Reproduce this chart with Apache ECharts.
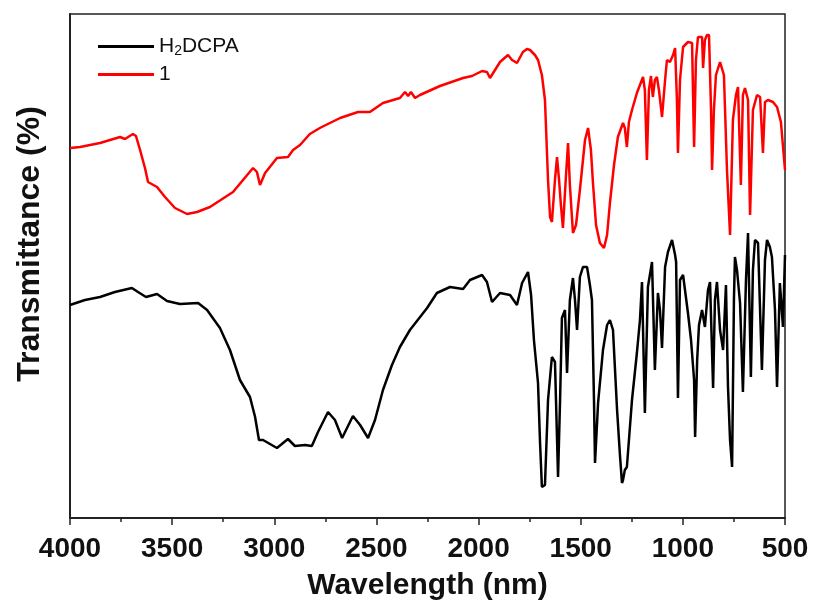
<!DOCTYPE html>
<html><head><meta charset="utf-8">
<script src="https://cdn.jsdelivr.net/npm/echarts@6/dist/echarts.min.js"></script>
<style>html,body{margin:0;padding:0;background:#fff}#c{width:814px;height:608px}</style>
</head><body><div id="c"></div>
<script>
// Wavenumber (cm-1) values
const redWave = [4000,3951,3902,3853,3804,3755,3731,3692,3677,3657,3633,3618,3574,3535,3486,3427,3378,3315,3202,3104,3085,3070,3045,2987,2933,2908,2874,2826,2777,2678,2590,2532,2468,2385,2360,2345,2331,2311,2287,2189,2076,2032,1983,1959,1944,1895,1856,1836,1812,1783,1763,1748,1724,1709,1690,1675,1660,1650,1641,1626,1616,1606,1597,1587,1572,1562,1553,1538,1523,1504,1479,1464,1450,1440,1425,1406,1386,1371,1357,1337,1318,1293,1284,1274,1264,1249,1225,1195,1186,1176,1166,1156,1147,1137,1127,1117,1102,1087,1078,1063,1048,1038,1029,1024,1014,999,975,955,945,936,926,906,901,892,882,872,862,857,848,838,818,799,784,769,755,740,730,716,706,696,681,671,657,637,622,608,598,583,559,539,520,500];
const redT = [370,371,373,375,378,381,379,384,382,368,350,336,331,321,310,304,306,311,326,350,346,333,345,360,361,368,373,384,390,400,406,406,415,420,426,422,426,420,423,432,440,442,447,446,440,456,463,458,455,466,469,468,463,458,443,418,338,301,296,338,361,338,313,290,343,375,333,285,293,328,378,390,368,335,293,275,270,283,315,353,381,395,390,371,396,408,425,441,428,358,428,442,421,438,441,428,401,438,458,456,463,470,418,365,438,471,476,475,371,458,481,481,450,478,483,483,408,348,408,443,456,443,348,283,398,423,431,333,423,430,418,303,408,423,421,365,416,418,416,411,396,348];
const blackWave = [4000,3927,3853,3780,3697,3667,3628,3574,3525,3462,3373,3329,3266,3217,3168,3119,3094,3075,3055,3021,2987,2957,2933,2899,2850,2816,2786,2737,2703,2668,2615,2580,2541,2507,2468,2424,2385,2336,2252,2204,2140,2076,2042,1983,1959,1934,1895,1846,1812,1787,1758,1743,1729,1709,1699,1690,1675,1660,1641,1626,1611,1601,1592,1577,1567,1553,1538,1528,1518,1504,1489,1469,1455,1445,1435,1430,1415,1391,1371,1357,1342,1322,1308,1298,1293,1284,1274,1249,1225,1210,1200,1186,1171,1151,1137,1122,1112,1102,1087,1073,1053,1038,1033,1024,1014,999,975,960,945,940,930,921,906,892,877,867,852,843,833,818,803,789,779,769,759,750,745,735,720,706,691,681,667,657,647,632,613,598,588,574,564,549,539,525,510,500];
const blackT = [213,218,221,226,230,226,221,224,217,214,215,208,190,168,138,121,101,78,78,74,70,75,79,72,73,72,86,106,98,80,102,93,80,98,128,153,171,188,210,225,231,229,238,243,236,216,225,223,213,235,246,223,178,135,75,31,33,118,161,156,41,118,200,208,145,218,240,218,188,241,251,251,233,218,118,55,115,168,193,198,188,108,63,35,38,48,51,118,165,198,236,105,231,256,148,225,208,170,251,266,278,263,256,120,238,243,205,178,138,81,158,193,208,191,228,236,130,218,236,188,168,233,131,78,51,218,261,248,215,126,238,285,141,248,278,275,148,258,278,271,261,208,131,235,191,263];
const xTicks = [4000,3500,3000,2500,2000,1500,1000,500];
const seriesNames = ['H2DCPA','1'];
const yTitle = 'Transmittance (%)';

const chart = echarts.init(document.getElementById('c'));
const zip = (a,b) => a.map((v,i)=>[v,b[i]]);
const font = '"Liberation Sans", Arial, sans-serif';
chart.setOption({
  animation:false,
  grid:{left:70,right:29,top:14,bottom:90,show:true,borderColor:'#222',borderWidth:1.5},
  legend:{
    orient:'vertical',left:93,top:31,itemGap:6,itemWidth:56,itemHeight:3,
    data:[{name:seriesNames[0],icon:'rect'},{name:seriesNames[1],icon:'rect'}],
    formatter:n=> n==='H2DCPA' ? 'H{s|2}DCPA' : n,
    textStyle:{fontFamily:font,fontSize:21,color:'#111',
      rich:{s:{fontFamily:font,fontSize:14,verticalAlign:'bottom',padding:[9,0,0,0],color:'#111'}}}
  },
  graphic:[{type:'text',x:30,y:244,rotation:Math.PI/2,
    style:{text:yTitle,font:'bold 32px "Liberation Sans", Arial, sans-serif',fill:'#111',
      textAlign:'center',textVerticalAlign:'middle'}}],
  xAxis:{
    type:'value',inverse:true,min:500,max:4000,interval:500,
    name:'Wavelength (nm)',nameLocation:'middle',nameGap:53,
    nameTextStyle:{fontFamily:font,fontSize:30,fontWeight:'bold',color:'#111'},
    axisLine:{lineStyle:{color:'#222',width:2}},
    axisTick:{inside:false,length:7,lineStyle:{color:'#222',width:1.5}},
    minorTick:{show:true,splitNumber:2,length:4,lineStyle:{color:'#222',width:1.5}},
    splitLine:{show:false},
    axisLabel:{fontFamily:font,fontSize:28,fontWeight:'bold',color:'#111',margin:17,
      formatter:v=> xTicks.includes(v)? String(v):''}
  },
  yAxis:{
    type:'value',min:0,max:504,
    axisLine:{show:true,lineStyle:{color:'#222',width:2}},
    axisTick:{show:false},axisLabel:{show:false},splitLine:{show:false}
  },
  series:[
    {name:seriesNames[0],type:'line',data:zip(blackWave,blackT),showSymbol:false,
     lineStyle:{color:'#000',width:2.5},itemStyle:{color:'#000'}},
    {name:seriesNames[1],type:'line',data:zip(redWave,redT),showSymbol:false,
     lineStyle:{color:'#f00',width:2.5},itemStyle:{color:'#f00'}}
  ]
});
</script></body></html>
